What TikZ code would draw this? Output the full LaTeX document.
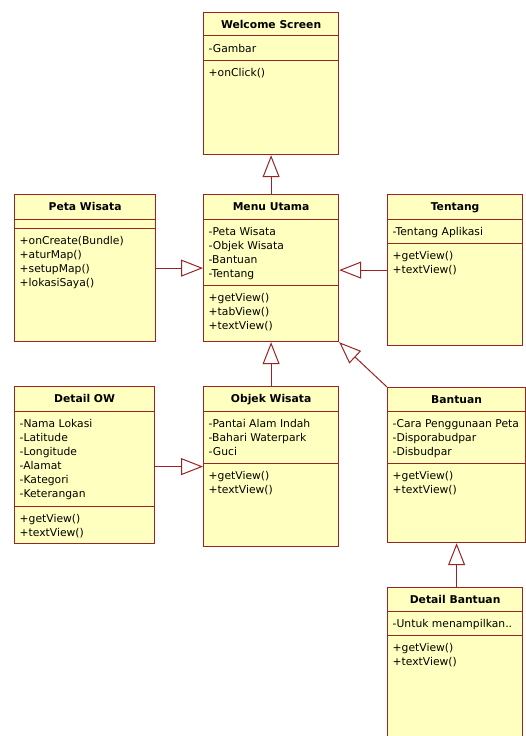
\documentclass[tikz,border=0pt]{standalone}
\usepackage{fontspec}
\setmainfont{DejaVu Sans}
\usepackage{tikz}
\usetikzlibrary{positioning,arrows.meta}
\definecolor{kuning}{RGB}{255,255,192}
\definecolor{merahtua}{RGB}{155,35,35}
\newcommand{\hurufkelas}{\fontsize{10.8}{14}\selectfont}
\tikzset{
    kelas/.style={draw=merahtua, fill=kuning, line width=1.2bp, anchor=north west, inner sep=0},
    judul/.style={font=\hurufkelas\bfseries, anchor=base, inner sep=0},
    isi/.style={font=\hurufkelas, align=left, anchor=north west, inner sep=0},
    sekat/.style={draw=merahtua, line width=1bp},
    turunan/.style={draw=merahtua, line width=1bp, -{Triangle[open, length=22bp, width=17bp]}}
}

\begin{document}
\begin{tikzpicture}[x=1bp, y=-1bp]
    \useasboundingbox (0,0) rectangle (526,736);

    \node[kelas, minimum width=135bp, minimum height=142bp] (welcome) at (203,12) {};
    \draw[sekat] ([yshift=-24bp]welcome.north west) -- ([yshift=-24bp]welcome.north east);
    \draw[sekat] ([yshift=-48bp]welcome.north west) -- ([yshift=-48bp]welcome.north east);
    \node[judul] (welcome-judul) at ([yshift=-16.5bp]welcome.north) {Welcome Screen};
    \node[isi] (welcome-atr) at ([xshift=5.5bp, yshift=-32bp]welcome.north west) {-Gambar};
    \node[isi] (welcome-met) at ([xshift=5.5bp, yshift=-56bp]welcome.north west) {+onClick()};

    \node[kelas, minimum width=135bp, minimum height=147bp] (menu) at (203,194) {};
    \draw[sekat] ([yshift=-25bp]menu.north west) -- ([yshift=-25bp]menu.north east);
    \draw[sekat] ([yshift=-91bp]menu.north west) -- ([yshift=-91bp]menu.north east);
    \node[judul] (menu-judul) at ([yshift=-16.5bp]menu.north) {Menu Utama};
    \node[isi] (menu-atr) at ([xshift=5.5bp, yshift=-33bp]menu.north west) {-Peta Wisata\\-Objek Wisata\\-Bantuan\\-Tentang};
    \node[isi] (menu-met) at ([xshift=5.5bp, yshift=-99bp]menu.north west) {+getView()\\+tabView()\\+textView()};

    \node[kelas, minimum width=141bp, minimum height=147bp] (peta) at (14,194) {};
    \draw[sekat] ([yshift=-25bp]peta.north west) -- ([yshift=-25bp]peta.north east);
    \draw[sekat] ([yshift=-34bp]peta.north west) -- ([yshift=-34bp]peta.north east);
    \node[judul] (peta-judul) at ([yshift=-16.5bp]peta.north) {Peta Wisata};
    \node[isi] (peta-met) at ([xshift=5.5bp, yshift=-42bp]peta.north west) {+onCreate(Bundle)\\+aturMap()\\+setupMap()\\+lokasiSaya()};

    \node[kelas, minimum width=135bp, minimum height=151bp] (tentang) at (387,194) {};
    \draw[sekat] ([yshift=-25bp]tentang.north west) -- ([yshift=-25bp]tentang.north east);
    \draw[sekat] ([yshift=-49bp]tentang.north west) -- ([yshift=-49bp]tentang.north east);
    \node[judul] (tentang-judul) at ([yshift=-16.5bp]tentang.north) {Tentang};
    \node[isi] (tentang-atr) at ([xshift=5.5bp, yshift=-33bp]tentang.north west) {-Tentang Aplikasi};
    \node[isi] (tentang-met) at ([xshift=5.5bp, yshift=-57bp]tentang.north west) {+getView()\\+textView()};

    \node[kelas, minimum width=140bp, minimum height=157bp] (detailow) at (14,386) {};
    \draw[sekat] ([yshift=-25bp]detailow.north west) -- ([yshift=-25bp]detailow.north east);
    \draw[sekat] ([yshift=-120bp]detailow.north west) -- ([yshift=-120bp]detailow.north east);
    \node[judul] (detailow-judul) at ([yshift=-16.5bp]detailow.north) {Detail OW};
    \node[isi] (detailow-atr) at ([xshift=5.5bp, yshift=-33bp]detailow.north west) {-Nama Lokasi\\-Latitude\\-Longitude\\-Alamat\\-Kategori\\-Keterangan};
    \node[isi] (detailow-met) at ([xshift=5.5bp, yshift=-128bp]detailow.north west) {+getView()\\+textView()};

    \node[kelas, minimum width=135bp, minimum height=160bp] (objek) at (203,386) {};
    \draw[sekat] ([yshift=-25bp]objek.north west) -- ([yshift=-25bp]objek.north east);
    \draw[sekat] ([yshift=-77bp]objek.north west) -- ([yshift=-77bp]objek.north east);
    \node[judul] (objek-judul) at ([yshift=-16.5bp]objek.north) {Objek Wisata};
    \node[isi] (objek-atr) at ([xshift=5.5bp, yshift=-33bp]objek.north west) {-Pantai Alam Indah\\-Bahari Waterpark\\-Guci};
    \node[isi] (objek-met) at ([xshift=5.5bp, yshift=-85bp]objek.north west) {+getView()\\+textView()};

    \node[kelas, minimum width=138bp, minimum height=155bp] (bantuan) at (387,387) {};
    \draw[sekat] ([yshift=-24bp]bantuan.north west) -- ([yshift=-24bp]bantuan.north east);
    \draw[sekat] ([yshift=-76bp]bantuan.north west) -- ([yshift=-76bp]bantuan.north east);
    \node[judul] (bantuan-judul) at ([yshift=-16.5bp]bantuan.north) {Bantuan};
    \node[isi] (bantuan-atr) at ([xshift=5.5bp, yshift=-32bp]bantuan.north west) {-Cara Penggunaan Peta\\-Disporabudpar\\-Disbudpar};
    \node[isi] (bantuan-met) at ([xshift=5.5bp, yshift=-84bp]bantuan.north west) {+getView()\\+textView()};

    \node[kelas, minimum width=135bp, minimum height=170bp] (detailbantuan) at (387,587) {};
    \draw[sekat] ([yshift=-24bp]detailbantuan.north west) -- ([yshift=-24bp]detailbantuan.north east);
    \draw[sekat] ([yshift=-48bp]detailbantuan.north west) -- ([yshift=-48bp]detailbantuan.north east);
    \node[judul] (detailbantuan-judul) at ([yshift=-16.5bp]detailbantuan.north) {Detail Bantuan};
    \node[isi] (detailbantuan-atr) at ([xshift=5.5bp, yshift=-32bp]detailbantuan.north west) {-Untuk menampilkan..};
    \node[isi] (detailbantuan-met) at ([xshift=5.5bp, yshift=-56bp]detailbantuan.north west) {+getView()\\+textView()};

    \draw[turunan] (menu.north) -- (welcome.south);
    \draw[turunan] (peta.east) -- (menu.west);
    \draw[turunan] (tentang.west) -- (menu.east |- tentang.west);
    \draw[turunan] (objek.north) -- (menu.south);
    \draw[turunan] (detailow.east |- objek.west) -- (objek.west);
    \draw[turunan] (bantuan.north west) -- (menu.south east);
    \draw[turunan] (bantuan.south |- detailbantuan.north) -- (bantuan.south);
\end{tikzpicture}
\end{document}
